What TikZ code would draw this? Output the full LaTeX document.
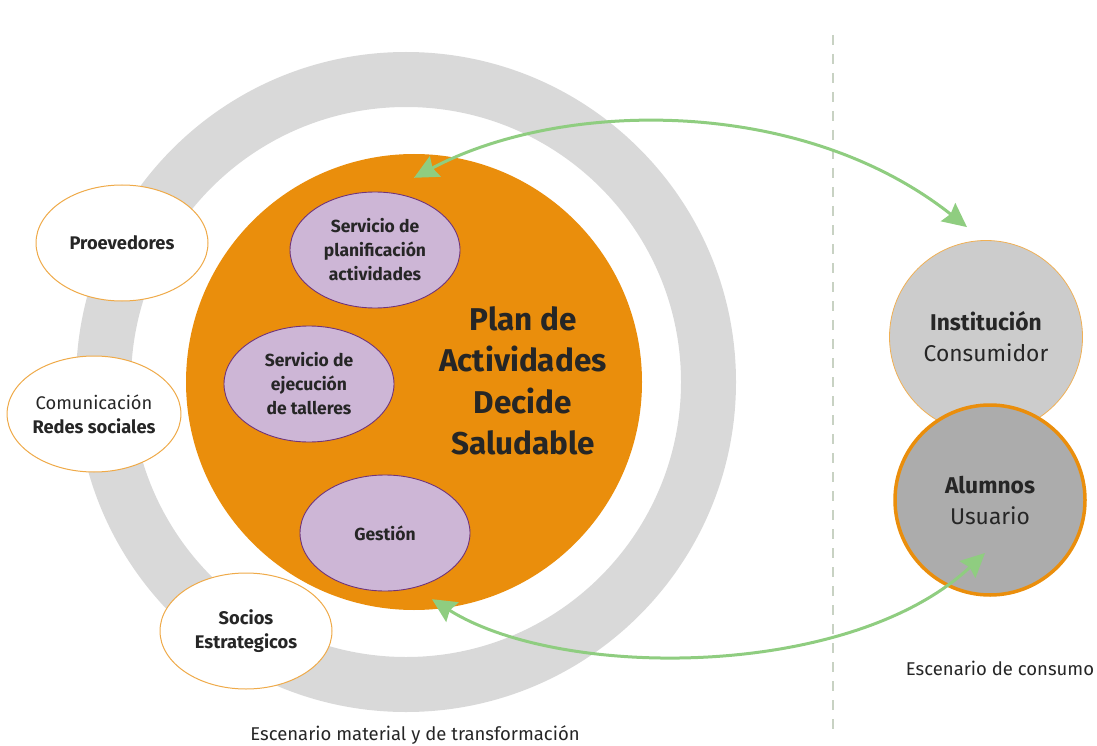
\documentclass[tikz,border=0pt]{standalone}
\usepackage{fontspec}
\setmainfont{Fira Sans}
\usetikzlibrary{arrows.meta, positioning, shapes.geometric}
\definecolor{dcOrange}{RGB}{234,142,12}
\definecolor{dcRing}{RGB}{217,217,217}
\definecolor{dcLilac}{RGB}{205,182,214}
\definecolor{dcPurple}{RGB}{112,52,122}
\definecolor{dcGreen}{RGB}{143,205,128}
\definecolor{dcInst}{RGB}{204,204,204}
\definecolor{dcUser}{RGB}{172,172,172}
\definecolor{dcText}{RGB}{38,38,38}
\definecolor{dcDash}{RGB}{200,210,195}

\begin{document}
\begin{tikzpicture}[x=1pt, y=-1pt, text=dcText,
  service/.style={ellipse, draw=dcPurple, fill=dcLilac, line width=0.9pt,
    minimum width=170pt, minimum height=116pt, inner sep=0pt, align=center,
    font=\bfseries\fontsize{17.5}{24}\selectfont},
  partner/.style={ellipse, draw=dcOrange!75, fill=white, line width=1pt,
    minimum width=172pt, minimum height=116pt, inner sep=0pt, align=center,
    font=\fontsize{18.3}{24}\selectfont},
  actor/.style={circle, minimum size=193pt, inner sep=0pt, align=center,
    font=\fontsize{22.8}{31}\selectfont},
  flow/.style={draw=dcGreen, line width=3pt,
    {Stealth[length=24pt, width=23pt, inset=3pt]}-{Stealth[length=24pt, width=23pt, inset=3pt]}},
  caption/.style={font=\fontsize{18.5}{22}\selectfont}]
\useasboundingbox (0,0) rectangle (1097,746);

% outer scenario ring
\fill[dcRing, even odd rule] (406,382) circle (330pt) (406,382) circle (275pt);

% plan
\node[circle, fill=dcOrange, minimum size=456pt, inner sep=0pt] (plan) at (414,382) {};
\node[align=center, font=\bfseries\fontsize{31.5}{41.5}\selectfont] (title) at (523,381)
  {Plan de\\Actividades\\Decide\\Saludable};

\foreach \pos/\name/\txt in {
   {(375,250)}/plani/{Servicio de\\planificación\\actividades},
   {(309,384)}/ejec/{Servicio de\\ejecución\\de talleres},
   {(385,533)}/gest/{Gestión}}
{
  \node[service] (\name) at \pos {\txt};
}

\foreach \pos/\name/\txt in {
   {(122,243)}/prov/{\textbf{Proevedores}},
   {(94,414)}/comu/{Comunicación\\\textbf{Redes sociales}},
   {(246,631)}/socio/{\textbf{Socios}\\\textbf{Estrategicos}}}
{
  \node[partner] (\name) at \pos {\txt};
}

% consumption side
\draw[dcDash, line width=1.2pt, dash pattern=on 10pt off 9pt] (833,35) -- (833,736);
\node[actor, fill=dcInst, draw=dcOrange!70, line width=0.8pt] (inst) at (986,337)
  {\textbf{Institución}\\Consumidor};
\node[actor, fill=dcUser, draw=dcOrange, line width=3.5pt, minimum size=190pt] (alum) at (990,500)
  {\textbf{Alumnos}\\Usuario};

% flows
\draw[flow] ([yshift=-24pt]plan.north) .. controls (560,100) and (800,95) .. ([shift={(-19pt,13pt)}]inst.north);
\draw[flow] ([shift={(18pt,11pt)}]plan.south) .. controls (560,680) and (850,680) .. ([shift={(-5pt,-53pt)}]alum.center);

\node[caption] (mat) at (415,735) {Escenario material y de transformación};
\node[caption] (cons) at (1000,668) {Escenario de consumo};

\end{tikzpicture}
\end{document}
